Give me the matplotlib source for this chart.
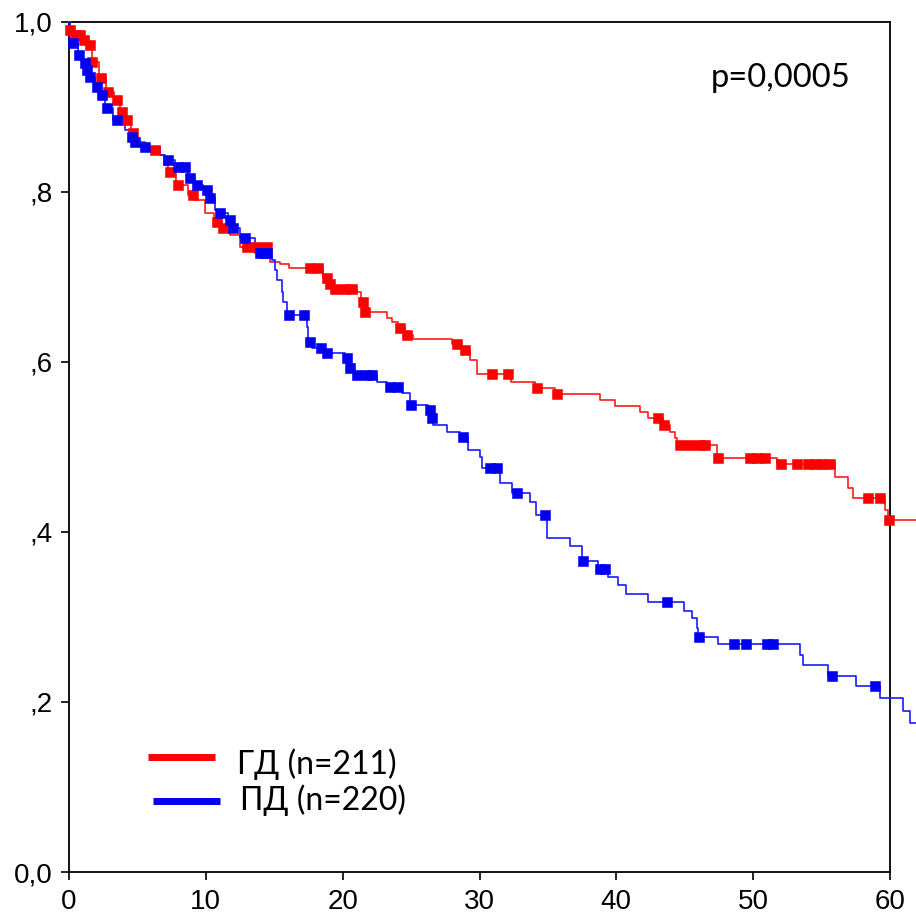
import numpy as np
import matplotlib
matplotlib.use("Agg")
import matplotlib.pyplot as plt
from matplotlib.lines import Line2D

# ---- data ----
red_label = "ГД (n=211)"
blue_label = "ПД (n=220)"
p_text = "p=0,0005"

red_times = [0.07, 0.22, 1.02, 1.39, 1.68, 2.19, 2.70, 3.29, 3.73, 4.17, 4.53, 4.90, 5.56,
             6.65, 6.94, 7.24, 7.82, 8.70, 9.21, 9.94, 10.60, 11.18, 11.77, 12.50, 14.69,
             15.42, 16.08, 18.57, 19.01, 19.30, 21.05, 21.35, 21.64, 23.25, 23.61, 24.05,
             24.56, 25.15, 28.00, 28.73, 29.31, 29.82, 32.31, 34.06, 35.53, 38.82, 39.91,
             41.74, 42.32, 43.42, 43.93, 44.30, 44.44, 47.37, 51.75, 56.00, 56.95, 57.31,
             59.65, 59.87]
red_surv = [0.990, 0.984, 0.978, 0.973, 0.953, 0.934, 0.917, 0.908, 0.894, 0.884, 0.869,
            0.859, 0.849, 0.843, 0.831, 0.823, 0.808, 0.796, 0.790, 0.775, 0.764, 0.757,
            0.749, 0.735, 0.717, 0.715, 0.710, 0.699, 0.692, 0.686, 0.682, 0.670, 0.659,
            0.652, 0.647, 0.640, 0.632, 0.627, 0.621, 0.614, 0.602, 0.586, 0.576, 0.569,
            0.562, 0.555, 0.548, 0.541, 0.534, 0.526, 0.517, 0.510, 0.502, 0.487, 0.480,
            0.465, 0.452, 0.440, 0.426, 0.414]
red_censored = [0.10, 0.44, 0.80, 1.10, 1.54, 1.70, 2.34, 2.85, 3.51, 3.87, 4.24, 4.68,
                6.29, 7.38, 7.97, 9.06, 10.82, 11.25, 13.01, 13.74, 14.47, 17.62, 18.20,
                18.86, 19.08, 19.45, 20.18, 20.69, 21.49, 21.66, 24.20, 24.71, 28.36,
                28.95, 30.92, 32.09, 34.21, 35.67, 43.05, 43.49, 44.66, 45.39, 46.13,
                46.49, 47.44, 49.78, 50.29, 50.88, 52.05, 53.22, 54.02, 54.53, 55.04,
                55.63, 58.41, 59.28, 59.90]

blue_times = [0.07, 0.22, 0.66, 1.02, 1.24, 1.46, 1.90, 2.27, 2.63, 3.22, 4.09, 4.46, 4.68,
              5.19, 6.65, 7.02, 7.75, 8.70, 9.21, 9.80, 10.23, 10.67, 10.89, 11.62, 11.92,
              12.50, 13.60, 14.84, 15.06, 15.20, 15.57, 15.64, 15.94, 17.40, 17.47, 17.76,
              18.71, 20.18, 20.39, 20.83, 22.51, 23.25, 24.34, 24.93, 26.24, 26.46, 26.61,
              27.63, 28.58, 29.17, 30.04, 30.19, 31.51, 32.38, 33.70, 34.14, 34.94, 36.62,
              37.50, 38.67, 39.40, 40.13, 40.72, 42.32, 44.96, 45.54, 45.91, 45.98, 47.44,
              53.44, 53.65, 55.48, 57.53, 59.28, 60.96, 61.48]
blue_surv = [0.990, 0.975, 0.961, 0.951, 0.943, 0.935, 0.923, 0.914, 0.899, 0.884, 0.873,
             0.864, 0.859, 0.853, 0.843, 0.837, 0.829, 0.816, 0.808, 0.802, 0.793, 0.778,
             0.775, 0.767, 0.757, 0.746, 0.728, 0.720, 0.708, 0.696, 0.682, 0.670, 0.655,
             0.641, 0.623, 0.616, 0.610, 0.604, 0.593, 0.585, 0.576, 0.570, 0.563, 0.549,
             0.543, 0.534, 0.526, 0.517, 0.512, 0.496, 0.488, 0.475, 0.457, 0.446, 0.435,
             0.420, 0.393, 0.383, 0.366, 0.356, 0.347, 0.338, 0.327, 0.318, 0.307, 0.299,
             0.287, 0.276, 0.268, 0.255, 0.243, 0.231, 0.219, 0.205, 0.189, 0.175]
blue_censored = [0.29, 0.73, 1.17, 1.32, 1.54, 2.05, 2.41, 2.78, 3.51, 4.61, 4.82, 5.56,
                 7.24, 7.97, 8.48, 8.85, 9.36, 10.09, 10.31, 11.04, 11.77, 11.99, 12.87,
                 13.96, 14.33, 14.47, 16.08, 17.18, 17.62, 18.42, 18.86, 20.32, 20.54,
                 21.05, 21.78, 22.15, 23.46, 24.05, 25.00, 26.39, 26.54, 28.80, 30.77,
                 31.29, 32.75, 34.80, 37.55, 38.82, 39.18, 43.71, 46.05, 48.61, 49.49,
                 51.02, 51.46, 55.77, 58.92]

t_end = 62.0
x_ticks = [0, 10, 20, 30, 40, 50, 60]
y_ticks = [0.0, 0.2, 0.4, 0.6, 0.8, 1.0]
y_tick_labels = ["0,0", ",2", ",4", ",6", ",8", "1,0"]

red_line_c = "#ff1a1a"
red_mark_c = "#ff0000"
blue_line_c = "#1a1aff"
blue_mark_c = "#0000f0"

# ---- figure ----
fig = plt.figure(figsize=(9.16, 9.16), dpi=100)
ax = fig.add_axes([69 / 916, 44 / 916, (890 - 69) / 916, (872 - 21.7) / 916])


def km(ax, times, surv, cens, lc, mc):
    tt = np.concatenate([[0.0], times, [t_end]])
    ss = np.concatenate([[1.0], surv, [surv[-1]]])
    ax.step(tt, ss, where="post", color=lc, lw=1.2, clip_on=False, zorder=3)
    times = np.asarray(times)
    lev = np.concatenate([[1.0], surv])
    idx = np.searchsorted(times, np.asarray(cens), side="right")
    ax.plot(cens, lev[idx], linestyle="none", marker="s", markersize=7.3,
            color=mc, markeredgecolor=mc, markeredgewidth=0.4, clip_on=False, zorder=4)


km(ax, red_times, red_surv, red_censored, red_line_c, red_mark_c)
km(ax, blue_times, blue_surv, blue_censored, blue_line_c, blue_mark_c)

ax.set_xlim(0, 60)
ax.set_ylim(0, 1)
for sp in ax.spines.values():
    sp.set_linewidth(1.3)
    sp.set_color("black")

tick_font = dict(family=["Liberation Sans", "DejaVu Sans"], size=20)
ax.set_xticks(x_ticks)
ax.set_xticklabels([str(v) for v in x_ticks], **tick_font)
ax.set_yticks(y_ticks)
ax.set_yticklabels(y_tick_labels, **tick_font)
ax.tick_params(direction="out", length=6, width=1.2, pad=6, colors="black")

txt_font = ["Lato", "DejaVu Sans"]
ax.text(0.782, 0.923, p_text, transform=ax.transAxes, fontsize=23.5,
        family=txt_font, ha="left", va="baseline")

# legend (manual)
for (x0, x1, yc, tx, tb, c, lab) in [(148, 215, 757, 237, 774, red_mark_c, red_label),
                                     (153, 220, 801, 240, 810, blue_mark_c, blue_label)]:
    fig.add_artist(Line2D([x0 / 916, x1 / 916], [1 - yc / 916, 1 - yc / 916],
                          color=c, lw=5, solid_capstyle="butt"))
    fig.text(tx / 916, 1 - tb / 916, lab, fontsize=23, family=txt_font,
             ha="left", va="baseline")

fig.savefig("out.png", dpi=100)
